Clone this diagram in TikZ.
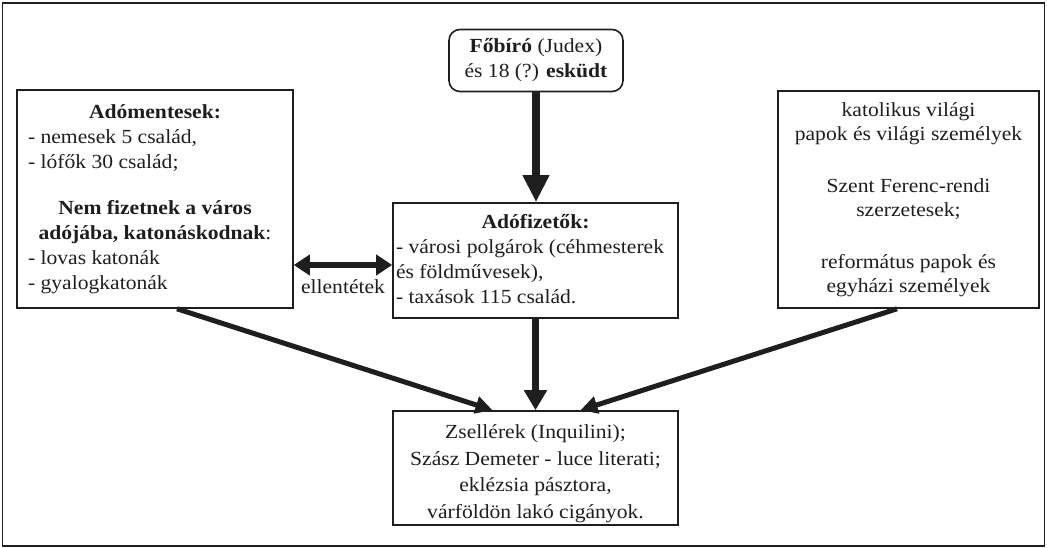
\documentclass[tikz,border=0pt]{standalone}
\usepackage{fontspec}
\setmainfont{Liberation Serif}[FakeStretch=1.08]
\usetikzlibrary{arrows.meta,calc}
\definecolor{ink}{HTML}{1E1E1E}
\newcommand{\ctrcell}[1]{\multicolumn{1}{@{}c@{}}{#1}}
\begin{document}
\begin{tikzpicture}[x=1pt,y=-1pt,
  every node/.style={text=ink, font=\fontsize{20}{25}\selectfont},
  box/.style={draw=ink, line width=1.6pt, inner sep=0pt, rectangle},
  heavy/.style={draw=ink, line width=8pt, -{Triangle[length=27pt,width=25pt]}},
  medium/.style={draw=ink, line width=7.5pt, -{Triangle[length=20pt,width=22pt]}},
  slanted/.style={draw=ink, line width=5pt, -{Triangle[length=17pt,width=17pt]}},
  both/.style={draw=ink, line width=6pt, {Triangle[length=16pt,width=20pt]}-{Triangle[length=16pt,width=20pt]}}
]
\useasboundingbox (0,0) rectangle (1047,548);
% outer frame
\draw[ink, line width=1.5pt] (2.5,3) rectangle (1044.5,546);

% magistrate
\node[box, rounded corners=11pt, minimum width=174pt, minimum height=62pt, align=center]
  (judge) at (536,60.5) {\textbf{Főbíró} (Judex)\\és 18 (?) \textbf{esküdt}};

% tax-exempt residents
\node[box, minimum width=276pt, minimum height=218pt] (exempt) at (155,199) {%
  \begin{tabular}{@{}p{254pt}@{}}
  \ctrcell{\textbf{Adómentesek:}}\\
  - nemesek 5 család,\\
  - lófők 30 család;\\[21pt]
  \ctrcell{\textbf{Nem fizetnek a város}}\\
  \ctrcell{\textbf{adójába, katonáskodnak}:}\\
  - lovas katonák\\
  - gyalogkatonák
  \end{tabular}};

% taxpayers
\node[box, minimum width=285pt, minimum height=115pt] (payers) at (535.5,260.5) {%
  \begin{tabular}{@{}p{279pt}@{}}
  \ctrcell{\textbf{Adófizetők:}}\\
  - városi polgárok (céhmesterek\\
  és földművesek),\\
  - taxások 115 család.
  \end{tabular}};

% clergy
\node[box, minimum width=261pt, minimum height=217pt, font=\fontsize{20}{24}\selectfont] (church) at (908.5,199.5) {%
  \begin{tabular}{@{}c@{}}
  katolikus világi\\
  papok és világi személyek\\[28pt]
  Szent Ferenc-rendi\\
  szerzetesek;\\[28pt]
  református papok és\\
  egyházi személyek
  \end{tabular}};

% cottars
\node[box, minimum width=285pt, minimum height=114pt, font=\fontsize{20}{26.5}\selectfont] (lower) at (535.5,468) {%
  \raisebox{-5pt}[\height][\depth]{%
  \begin{tabular}{@{}c@{}}
  Zsellérek (Inquilini);\\
  Szász Demeter - luce literati;\\
  eklézsia pásztora,\\
  várföldön lakó cigányok.
  \end{tabular}}};

% connectors
\draw[heavy] (judge.south) -- (judge.south |- payers.north);
\draw[medium] (payers.south) -- (lower.north);
\draw[slanted] ([xshift=22pt]exempt.south) -- ([xshift=-43pt]lower.north);
\draw[slanted] ([xshift=-11.5pt]church.south) -- ([xshift=45pt]lower.north);
\coordinate (contrast) at ([yshift=-4.5pt]payers.west);
\draw[both] (exempt.east |- contrast) -- (contrast);
\node (opp) at (343,287) {ellentétek};
\end{tikzpicture}
\end{document}
